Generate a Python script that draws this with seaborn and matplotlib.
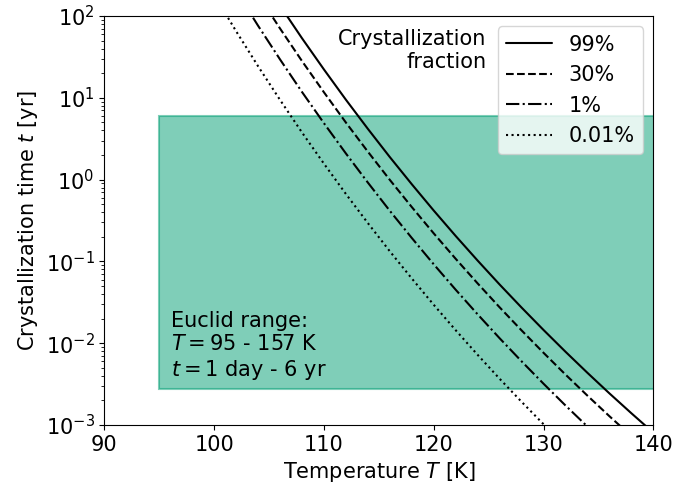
import numpy as np
import pandas as pd
import matplotlib
matplotlib.use("Agg")
import matplotlib.pyplot as plt
import seaborn as sns
from matplotlib.patches import Rectangle

# temperature grid [K]
temps = [100, 102, 104, 106, 108, 110, 112, 114, 116, 118, 120,
         122, 124, 126, 128, 130, 132, 134, 136, 138, 140]

# log10 of crystallization time [yr] (smoothed)
logt_99 = [3.412, 2.967, 2.539, 2.127, 1.729, 1.347, 0.977, 0.621, 0.276, -0.056, -0.378,
           -0.689, -0.990, -1.282, -1.564, -1.838, -2.104, -2.362, -2.613, -2.856, -3.093]
logt_30 = [3.133, 2.688, 2.260, 1.848, 1.450, 1.068, 0.698, 0.342, -0.003, -0.335, -0.657,
           -0.968, -1.269, -1.561, -1.843, -2.117, -2.383, -2.641, -2.892, -3.135, -3.372]
logt_1 = [2.755, 2.310, 1.882, 1.470, 1.072, 0.690, 0.320, -0.036, -0.381, -0.713, -1.035,
          -1.346, -1.647, -1.939, -2.221, -2.495, -2.761, -3.019, -3.270, -3.513, -3.750]
logt_001 = [2.260, 1.815, 1.387, 0.975, 0.577, 0.195, -0.175, -0.531, -0.876, -1.208, -1.530,
            -1.841, -2.142, -2.434, -2.716, -2.990, -3.256, -3.514, -3.765, -4.008, -4.245]

labels = ['99%', '30%', '1%', '0.01%']
styles = ['-', '--', '-.', ':']

# Euclid range
euclid_T = [95, 157]
euclid_t = [1 / 365.25, 6]

sns.set_style("ticks", rc={'axes.edgecolor': 'black', 'xtick.color': 'black',
                           'ytick.color': 'black', 'text.color': 'black',
                           'axes.labelcolor': 'black'})
plt.rcParams['font.family'] = ['DejaVu Sans']
plt.rcParams['font.size'] = 15

fig = plt.figure(figsize=(7, 4.86), dpi=100)
ax = fig.add_axes([0.149, 0.1255, 0.7843, 0.8416])

rect = Rectangle((euclid_T[0], euclid_t[0]), euclid_T[1] - euclid_T[0], euclid_t[1] - euclid_t[0],
                 facecolor='#009E73', edgecolor='#009E73', alpha=0.5, lw=1.5, zorder=1)
ax.add_patch(rect)

for lt, lab, ls in zip([logt_99, logt_30, logt_1, logt_001], labels, styles):
    df = pd.DataFrame({'T': temps, 't': 10 ** np.array(lt)})
    sns.lineplot(data=df, x='T', y='t', ax=ax, color='k', linestyle=ls, lw=1.5, label=lab, zorder=3)

ax.set_yscale('log')
ax.set_xlim(90, 140)
ax.set_ylim(1e-3, 1e2)
ax.set_xlabel('Temperature $T$ [K]', fontsize=15)
ax.set_ylabel('Crystallization time $t$ [yr]', fontsize=15)
ax.tick_params(axis='both', labelsize=15)

ax.text(96.1, 3.4e-3, 'Euclid range:\n$T = 95$ - 157 K\n$t = 1$ day - 6 yr',
        fontsize=15, ha='left', va='bottom', linespacing=1.2)

leg = ax.legend(loc='upper right', fontsize=15, handlelength=2.2, framealpha=0.8)
ax.text(0.6965, 0.968, 'Crystallization\nfraction', transform=ax.transAxes,
        ha='right', va='top', fontsize=15, linespacing=1.2)

fig.savefig('out.png', dpi=100)
